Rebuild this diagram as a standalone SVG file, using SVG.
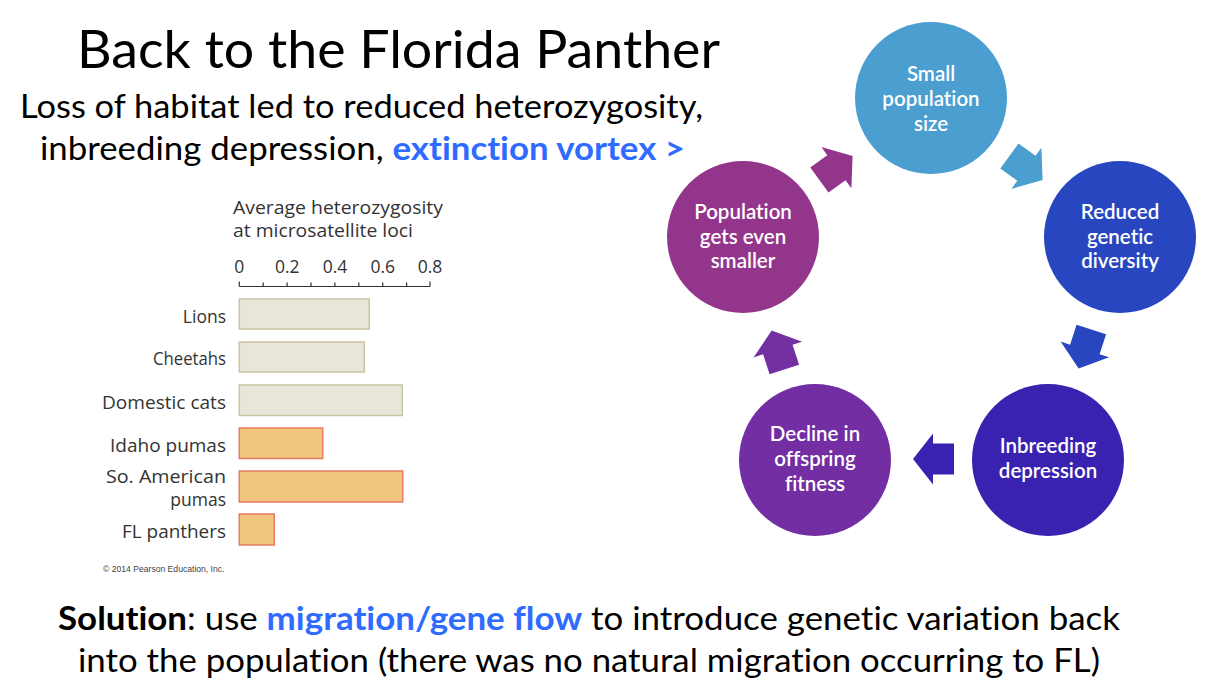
<svg xmlns="http://www.w3.org/2000/svg" width="1211" height="696" viewBox="0 0 1211 696">
<style>
.t{font-family:Lato,"Liberation Sans",sans-serif;fill:#000;font-variant-ligatures:none}
.ct{font-family:Lato,"Liberation Sans",sans-serif;fill:#fff;font-size:20.5px;font-weight:600;text-anchor:middle;font-variant-ligatures:none}
.ch{font-family:"Open Sans","Liberation Sans",sans-serif;fill:#333;font-size:17.5px}
.lab{text-anchor:end}
.ax{text-anchor:middle}
.g{fill:#e8e6d8;stroke:#c9c5a3;stroke-width:1.5}
.o{fill:#f0c67f;stroke:#e67c5e;stroke-width:1.5}
.blue{fill:#2f6bff;font-weight:bold}
</style>
<defs>
<polygon id="arr" points="-20.5,-15.5 0.5,-15.5 0.5,-25.5 20.5,0 0.5,25.5 0.5,15.5 -20.5,15.5"/>
</defs>
<rect width="1211" height="696" fill="#fff"/>
<text class="t" x="77" y="68" font-size="52" textLength="643" lengthAdjust="spacingAndGlyphs">Back to the Florida Panther</text>
<text class="t" x="20" y="118" font-size="32" textLength="683" lengthAdjust="spacingAndGlyphs">Loss of habitat led to reduced heterozygosity,</text>
<text class="t" x="40" y="160" font-size="32" textLength="645" lengthAdjust="spacingAndGlyphs">inbreeding depression, <tspan class="blue">extinction vortex &gt;</tspan></text>

<g id="chart">
<text class="ch" x="233" y="214" textLength="210" lengthAdjust="spacingAndGlyphs">Average heterozygosity</text>
<text class="ch" x="233" y="237" textLength="180" lengthAdjust="spacingAndGlyphs">at microsatellite loci</text>
<text class="ch ax" x="239.3" y="273">0</text>
<text class="ch ax" x="287.2" y="273">0.2</text>
<text class="ch ax" x="335" y="273">0.4</text>
<text class="ch ax" x="382.8" y="273">0.6</text>
<text class="ch ax" x="430" y="273">0.8</text>
<path d="M239.3,286.5H430M239.3,281.5v5M263.2,282.5v4M287.1,282.5v4M311,282.5v4M334.9,282.5v4M358.8,282.5v4M382.7,282.5v4M406.6,282.5v4M430,281.5v5" stroke="#333" stroke-width="1.2" fill="none"/>
<rect class="g" x="239.3" y="299" width="130" height="30"/>
<rect class="g" x="239.3" y="342" width="125" height="30"/>
<rect class="g" x="239.3" y="385" width="163" height="30.5"/>
<rect class="o" x="239.3" y="428" width="83.4" height="30.5"/>
<rect class="o" x="239.3" y="471" width="163.4" height="31"/>
<rect class="o" x="239.3" y="514" width="35" height="31"/>
<text class="ch lab" x="226" y="323">Lions</text>
<text class="ch lab" x="226" y="365" textLength="73" lengthAdjust="spacingAndGlyphs">Cheetahs</text>
<text class="ch lab" x="226" y="409" textLength="124" lengthAdjust="spacingAndGlyphs">Domestic cats</text>
<text class="ch lab" x="226" y="452" textLength="116" lengthAdjust="spacingAndGlyphs">Idaho pumas</text>
<text class="ch lab" x="226" y="483" textLength="120" lengthAdjust="spacingAndGlyphs">So. American</text>
<text class="ch lab" x="226" y="506">pumas</text>
<text class="ch lab" x="226" y="538" textLength="104" lengthAdjust="spacingAndGlyphs">FL panthers</text>
<text x="103" y="572" font-family="'Liberation Sans',sans-serif" font-size="8.6" fill="#444">© 2014 Pearson Education, Inc.</text>
</g>

<g id="connectors">
<use href="#arr" fill="#4a9ed0" transform="translate(1026,168) rotate(36)"/>
<use href="#arr" fill="#2846c0" transform="translate(1085,349) rotate(108)"/>
<use href="#arr" fill="#3a22b0" transform="translate(933.5,459) rotate(180)"/>
<use href="#arr" fill="#7230a3" transform="translate(778,350) rotate(-108)"/>
<use href="#arr" fill="#94358c" transform="translate(836,168) rotate(-36)"/>
</g>

<g id="n1"><circle cx="931" cy="98" r="76" fill="#4a9ed0"/>
<text class="ct" x="931" y="81">Small</text><text class="ct" x="931" y="106">population</text><text class="ct" x="931" y="131">size</text></g>
<g id="n2"><circle cx="1120" cy="237" r="76" fill="#2846c0"/>
<text class="ct" x="1120" y="219">Reduced</text><text class="ct" x="1120" y="244">genetic</text><text class="ct" x="1120" y="268">diversity</text></g>
<g id="n3"><circle cx="1048" cy="460" r="76" fill="#3a22b0"/>
<text class="ct" x="1048" y="453">Inbreeding</text><text class="ct" x="1048" y="478">depression</text></g>
<g id="n4"><circle cx="815" cy="460" r="76" fill="#722ea2"/>
<text class="ct" x="815" y="441">Decline in</text><text class="ct" x="815" y="466">offspring</text><text class="ct" x="815" y="491">fitness</text></g>
<g id="n5"><circle cx="743" cy="237" r="76" fill="#94358c"/>
<text class="ct" x="743" y="219">Population</text><text class="ct" x="743" y="244">gets even</text><text class="ct" x="743" y="268">smaller</text></g>

<text class="t" x="58" y="630" font-size="32" textLength="1062" lengthAdjust="spacingAndGlyphs"><tspan font-weight="bold">Solution</tspan>: use <tspan class="blue">migration/gene flow</tspan> to introduce genetic variation back</text>
<text class="t" x="78" y="672" font-size="32" textLength="1022" lengthAdjust="spacingAndGlyphs">into the population (there was no natural migration occurring to FL)</text>
</svg>
